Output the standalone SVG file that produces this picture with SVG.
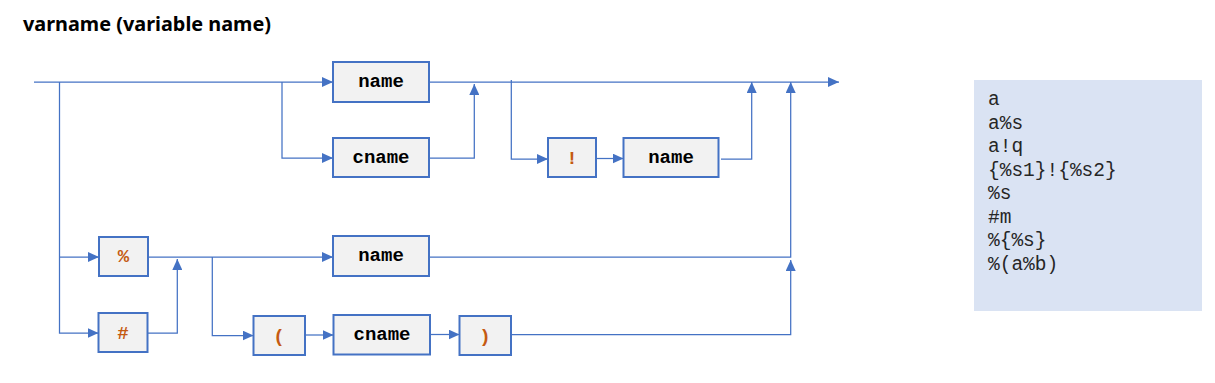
<svg xmlns="http://www.w3.org/2000/svg" width="1215" height="383" viewBox="0 0 1215 383">
<style>
.box{fill:#F2F2F2;stroke:#4472C4;stroke-width:2}
.lbl{font-family:"Liberation Mono","Courier New",monospace;font-weight:bold;font-size:19px;fill:#000;text-anchor:middle}
.sym{font-family:"Liberation Mono","Courier New",monospace;font-weight:bold;font-size:19px;fill:#C55A11;text-anchor:middle}
.con{fill:none;stroke:#4472C4;stroke-width:1.25}
.ex{font-family:"Liberation Mono","Courier New",monospace;font-size:19.5px;fill:#262626}
</style>
<defs>
<marker id="arr" markerUnits="userSpaceOnUse" markerWidth="12" markerHeight="10" refX="11" refY="5" orient="auto">
<path d="M0,0 L11,5 L0,10 Z" fill="#4472C4"/>
</marker>
</defs>
<rect width="1215" height="383" fill="#FFFFFF"/>
<text x="23" y="31" font-family="'Noto Sans','Liberation Sans',sans-serif" font-weight="bold" font-size="20" fill="#000" textLength="248" lengthAdjust="spacingAndGlyphs">varname (variable name)</text>

<g id="connectors">
<path class="con" d="M34,82 H333" marker-end="url(#arr)"/>
<path class="con" d="M429,82 H839" marker-end="url(#arr)"/>
<path class="con" d="M59.5,82 V333 H98.5" marker-end="url(#arr)"/>
<path class="con" d="M59.5,257 H99" marker-end="url(#arr)"/>
<path class="con" d="M282,82 V158 H333" marker-end="url(#arr)"/>
<path class="con" d="M429,158 H474.3 V84" marker-end="url(#arr)"/>
<path class="con" d="M511.3,80 V159 H548" marker-end="url(#arr)"/>
<path class="con" d="M596,158.5 H623.5" marker-end="url(#arr)"/>
<path class="con" d="M721,159 H751.7 V82" marker-end="url(#arr)"/>
<path class="con" d="M148,257 H333" marker-end="url(#arr)"/>
<path class="con" d="M147.5,333 H177.3 V259" marker-end="url(#arr)"/>
<path class="con" d="M212.3,257 V335.5 H253.5" marker-end="url(#arr)"/>
<path class="con" d="M305,335 H333.5" marker-end="url(#arr)"/>
<path class="con" d="M430,334.5 H459.5" marker-end="url(#arr)"/>
<path class="con" d="M429,257 H790.7 V82" marker-end="url(#arr)"/>
<path class="con" d="M511,334.5 H790.7 V260" marker-end="url(#arr)"/>
</g>

<g id="name1"><rect class="box" x="333" y="62" width="96" height="40"/><text class="lbl" x="381" y="87">name</text></g>
<g id="cname1"><rect class="box" x="333" y="138" width="96" height="39"/><text class="lbl" x="381" y="162.5">cname</text></g>
<g id="bang"><rect class="box" x="548" y="138" width="48" height="39"/><text class="sym" x="572" y="164">!</text></g>
<g id="name2"><rect class="box" x="623.5" y="138" width="95" height="39"/><text class="lbl" x="671" y="162.5">name</text></g>
<g id="pct"><rect class="box" x="99" y="237" width="49" height="39"/><text class="sym" x="123.5" y="262">%</text></g>
<g id="hash"><rect class="box" x="98.5" y="313" width="49" height="39"/><text class="sym" x="123" y="338.5">#</text></g>
<g id="name3"><rect class="box" x="333" y="236" width="96" height="40"/><text class="lbl" x="381" y="261">name</text></g>
<g id="lparen"><rect class="box" x="253.5" y="316" width="51.5" height="39"/><text class="sym" x="279" y="341.5">(</text></g>
<g id="cname2"><rect class="box" x="333.5" y="315" width="96.5" height="39.5"/><text class="lbl" x="382" y="339.5">cname</text></g>
<g id="rparen"><rect class="box" x="459.5" y="316" width="51.5" height="39"/><text class="sym" x="485" y="341.5">)</text></g>

<g id="examples">
<rect x="974" y="80" width="228" height="231" fill="#DAE3F3"/>
<text class="ex" x="988" y="105">a</text>
<text class="ex" x="988" y="128.5">a%s</text>
<text class="ex" x="988" y="152">a!q</text>
<text class="ex" x="988" y="175.5">{%s1}!{%s2}</text>
<text class="ex" x="988" y="199">%s</text>
<text class="ex" x="988" y="222.5">#m</text>
<text class="ex" x="988" y="246">%{%s}</text>
<text class="ex" x="988" y="269.5">%(a%b)</text>
</g>
</svg>
